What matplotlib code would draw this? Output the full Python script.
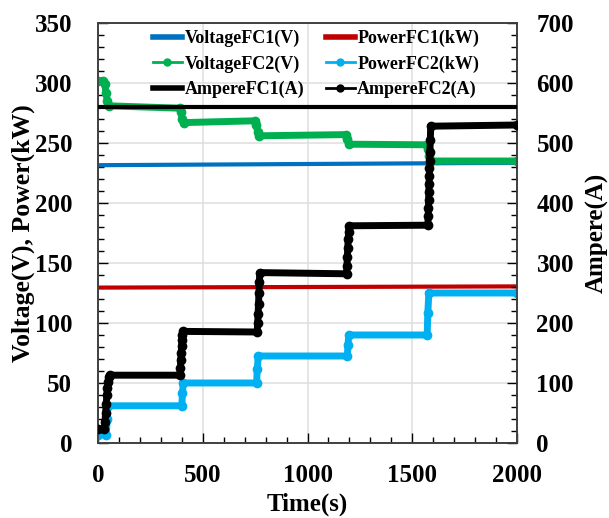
import matplotlib
matplotlib.use("Agg")
import matplotlib.pyplot as plt
from matplotlib.lines import Line2D
from matplotlib.ticker import MultipleLocator

# ---- data ----
t_fc1 = [0, 2000]
voltage_fc1 = [231.5, 233.5]
power_fc1 = [129.5, 130.5]
ampere_fc1 = [560, 560]

t_v2 = [0, 25, 32, 38, 44, 50, 390, 396, 402, 408, 750, 756, 762, 768, 1185, 1190, 1196, 1570, 1576, 1582, 1590, 2000]
voltage_fc2 = [302, 302, 299, 292, 285, 281, 279, 276, 270, 267, 268.5, 265, 259, 256, 257, 253, 249, 248.5, 245, 239, 235, 235]

t_p2 = [0, 40, 43, 47, 400, 403, 407, 757, 760, 765, 1190, 1193, 1197, 1571, 1574, 1579, 2000]
power_fc2 = [7, 7, 20, 31, 31, 42, 50, 50, 62, 72.5, 72.5, 82, 90, 90, 108, 125, 125]

t_a2 = [0, 30, 33, 36, 39, 42, 45, 48, 52, 55, 390, 393, 395, 397, 399, 401, 403, 405, 760, 762, 764, 766, 768, 770, 772, 1186, 1188, 1190, 1192, 1194, 1196, 1198, 1574, 1576, 1577, 1578, 1579, 1580, 1581, 1582, 1583, 1584, 1586, 1588, 2000]
ampere_fc2 = [23, 23, 35, 50, 65, 80, 92, 102, 110, 113, 113, 125, 138, 150, 162, 172, 180, 186, 185, 200, 215, 232, 250, 268, 284, 282, 295, 310, 325, 340, 352, 362, 363, 378, 392, 405, 418, 432, 445, 458, 470, 485, 505, 528, 530]

# ---- style ----
plt.rcParams['font.family'] = ['Liberation Serif', 'DejaVu Serif']
plt.rcParams['font.weight'] = 'bold'

c_blue = '#0070C0'
c_red = '#C00000'
c_green = '#00B050'
c_cyan = '#00B0F0'

fig = plt.figure(figsize=(6.09, 5.18), dpi=100)
ax = fig.add_axes([0.161, 0.1448, 0.688, 0.8108])
ax2 = ax.twinx()

ax.plot(t_fc1, voltage_fc1, color=c_blue, lw=3, zorder=3)
ax.plot(t_fc1, power_fc1, color=c_red, lw=3, zorder=3)
ax.plot(t_v2, voltage_fc2, color=c_green, lw=5, marker='o', ms=6, zorder=4)
ax.plot(t_p2, power_fc2, color=c_cyan, lw=5, marker='o', ms=6, zorder=4)
ax2.plot(t_fc1, ampere_fc1, color='black', lw=3, zorder=3)
ax2.plot(t_a2, ampere_fc2, color='black', lw=5, marker='o', ms=6, zorder=4)

ax.set_xlim(0, 2000)
ax.set_ylim(0, 350)
ax2.set_ylim(0, 700)

ax.xaxis.set_major_locator(MultipleLocator(500))
ax.xaxis.set_minor_locator(MultipleLocator(100))
ax.yaxis.set_major_locator(MultipleLocator(50))
ax.yaxis.set_minor_locator(MultipleLocator(10))
ax2.yaxis.set_major_locator(MultipleLocator(100))
ax2.yaxis.set_minor_locator(MultipleLocator(20))

ax.grid(True, which='major', color='#E0E0E0', lw=1.2, zorder=0)
ax.set_axisbelow(True)

for a in (ax, ax2):
    a.tick_params(which='major', direction='in', length=7, width=1, labelsize=18)
    a.tick_params(which='minor', direction='in', length=4, width=1)
    for s in a.spines.values():
        s.set_color('#404040')
        s.set_linewidth(1.2)
ax.tick_params(axis='x', pad=15)
ax.tick_params(axis='y', pad=18.5)
ax.tick_params(axis='y', right=False, which='both')
ax.tick_params(axis='x', top=False, which='both')
ax2.tick_params(axis='y', pad=14)

for lab in ax.get_xticklabels() + ax.get_yticklabels() + ax2.get_yticklabels():
    lab.set_fontweight('bold')

ax.set_xlabel('Time(s)', fontsize=18, fontweight='bold', labelpad=4)
ax.set_ylabel('Voltage(V), Power(kW)', fontsize=18.5, fontweight='bold', labelpad=0)
ax2.set_ylabel('Ampere(A)', fontsize=18, fontweight='bold', labelpad=8)

handles = [
    Line2D([], [], color=c_blue, lw=4),
    Line2D([], [], color=c_green, lw=2, marker='o', ms=5),
    Line2D([], [], color='black', lw=4),
    Line2D([], [], color=c_red, lw=4),
    Line2D([], [], color=c_cyan, lw=2, marker='o', ms=5),
    Line2D([], [], color='black', lw=2, marker='o', ms=5),
]
labels = ['VoltageFC1(V)', 'VoltageFC2(V)', 'AmpereFC1(A)',
          'PowerFC1(kW)', 'PowerFC2(kW)', 'AmpereFC2(A)']
leg = ax2.legend(handles, labels, loc='upper center', bbox_to_anchor=(0.52, 1.022), ncol=2,
                 frameon=False, prop={'weight': 'bold', 'size': 13},
                 handlelength=1.6, handletextpad=0.15, columnspacing=1.2, labelspacing=0.45)
leg.set_zorder(10)

fig.savefig('out.png', dpi=100)
